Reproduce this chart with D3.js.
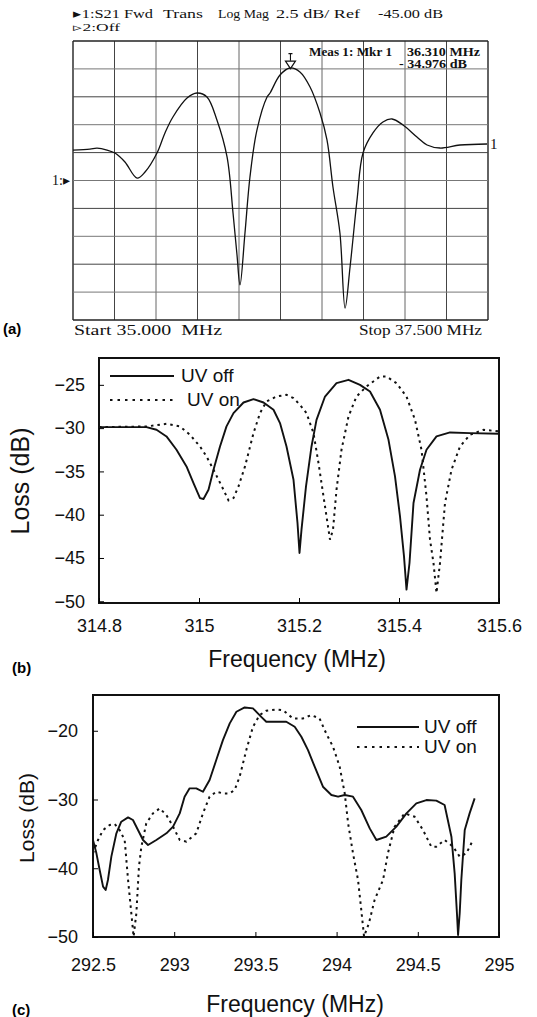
<!DOCTYPE html>
<html>
<head>
<meta charset="utf-8">
<script src="https://cdn.jsdelivr.net/npm/d3@7"></script>
<style>
  body { margin: 0; background: #fff; }
  svg { display: block; }
</style>
</head>
<body>
<svg id="fig" width="537" height="1017"></svg>
<script>
// ---- panel (a): network analyzer trace (MHz, dB) ----
const aFreq = [35.000, 35.102, 35.145, 35.205, 35.253, 35.313, 35.386, 35.434, 35.506, 35.554, 35.602, 35.687,
  35.747, 35.807, 35.867, 35.928, 35.964, 35.988, 36.006, 36.036, 36.066, 36.108, 36.169, 36.187, 36.247,
  36.307, 36.367, 36.428, 36.488, 36.530, 36.566, 36.608, 36.639, 36.669, 36.711, 36.747, 36.807, 36.867,
  36.922, 36.988, 37.072, 37.133, 37.211, 37.331, 37.494];
const aLoss = [-42.27, -42.18, -42.10, -42.27, -42.54, -43.34, -44.78, -44.24, -42.54, -40.74, -39.31, -37.61,
  -37.16, -37.52, -39.58, -42.89, -47.91, -51.68, -54.36, -49.70, -44.69, -40.48, -37.52, -37.16, -35.55,
  -34.92, -35.28, -36.62, -38.95, -41.37, -45.58, -49.70, -56.43, -52.75, -46.75, -42.54, -40.74, -39.76,
  -39.49, -40.03, -41.10, -41.82, -42.09, -41.82, -41.73];
const aMarker = { f: 36.310, db: -34.976 };

// ---- panel (b) ----
const bOffFreq = [314.8, 314.849, 314.895, 314.915, 314.935, 314.955, 314.975, 314.989, 315.002, 315.009, 315.019,
  315.029, 315.042, 315.055, 315.069, 315.089, 315.109, 315.129, 315.149, 315.162, 315.175, 315.189, 315.197,
  315.201, 315.205, 315.214, 315.225, 315.235, 315.252, 315.275, 315.299, 315.322, 315.342, 315.362, 315.379,
  315.392, 315.402, 315.410, 315.415, 315.421, 315.429, 315.442, 315.455, 315.475, 315.502, 315.542, 315.6];
const bOffLoss = [-29.88, -29.88, -29.88, -30.19, -30.96, -32.50, -34.42, -36.35, -38.08, -38.19, -37.12,
  -34.81, -32.12, -29.80, -28.27, -27.04, -26.65, -27.04, -27.88, -29.42, -32.12, -35.96, -40.96,
  -44.42, -41.73, -36.73, -32.12, -29.04, -26.35, -24.81, -24.42, -25.00, -25.77, -27.88, -31.35,
  -35.58, -40.19, -44.81, -48.65, -45.58, -38.65, -34.81, -32.50, -30.96, -30.50, -30.58, -30.65];
const bOnFreq = [314.8, 314.895, 314.935, 314.962, 314.982, 315.002, 315.015, 315.029, 315.039, 315.049, 315.059,
  315.069, 315.079, 315.092, 315.109, 315.122, 315.135, 315.155, 315.175, 315.189, 315.202, 315.215, 315.229,
  315.239, 315.249, 315.257, 315.262, 315.268, 315.275, 315.285, 315.299, 315.315, 315.335, 315.362, 315.375,
  315.395, 315.415, 315.432, 315.445, 315.455, 315.462, 315.469, 315.475, 315.482, 315.492, 315.505, 315.522,
  315.542, 315.569, 315.6];
const bOnLoss = [-29.88, -29.81, -29.50, -29.81, -30.77, -32.12, -33.27, -34.81, -35.96, -37.12, -38.35,
  -38.08, -36.73, -34.42, -30.58, -28.27, -26.92, -26.35, -26.15, -26.54, -27.31, -28.27, -30.58,
  -34.04, -37.88, -40.96, -42.88, -41.73, -37.12, -32.50, -28.65, -26.35, -25.19, -24.04, -24.04,
  -24.81, -26.35, -29.04, -32.50, -37.88, -42.88, -45.58, -49.04, -45.58, -38.65, -34.81, -32.12,
  -30.77, -30.19, -30.38];
const bXTicks = [314.8, 315, 315.2, 315.4, 315.6];
const bYTicks = [-50, -45, -40, -35, -30, -25];

// ---- panel (c) ----
const cOffFreq = [292.5, 292.521, 292.541, 292.562, 292.578, 292.592, 292.613, 292.644, 292.674, 292.716, 292.746,
  292.777, 292.808, 292.839, 292.89, 292.952, 292.993, 293.034, 293.064, 293.095, 293.136, 293.177, 293.218,
  293.259, 293.3, 293.342, 293.383, 293.434, 293.485, 293.536, 293.567, 293.629, 293.69, 293.742, 293.783,
  293.824, 293.865, 293.916, 293.968, 294.009, 294.05, 294.101, 294.152, 294.204, 294.245, 294.306, 294.368,
  294.43, 294.491, 294.553, 294.614, 294.665, 294.707, 294.727, 294.741, 294.748, 294.758, 294.768, 294.789,
  294.819, 294.85];
const cOffLoss = [-35.89, -37.83, -40.25, -42.67, -43.16, -41.71, -38.31, -34.92, -33.23, -32.60, -32.98,
  -34.44, -35.89, -36.62, -35.89, -34.92, -33.95, -32.02, -29.59, -28.38, -28.38, -28.87, -27.17,
  -24.26, -21.36, -18.93, -17.24, -16.61, -16.75, -17.97, -18.69, -18.69, -18.69, -19.42, -20.87,
  -22.81, -25.23, -28.14, -29.35, -29.59, -29.35, -29.59, -31.53, -34.20, -35.89, -35.41, -33.95,
  -32.02, -30.56, -30.08, -30.17, -30.80, -35.41, -40.74, -46.55, -49.70, -46.55, -41.71, -34.44,
  -32.02, -29.84];
const cOnFreq = [292.5, 292.531, 292.562, 292.603, 292.634, 292.664, 292.695, 292.716, 292.736, 292.75, 292.767,
  292.783, 292.798, 292.828, 292.869, 292.911, 292.952, 292.993, 293.034, 293.075, 293.136, 293.177, 293.218,
  293.259, 293.3, 293.342, 293.372, 293.403, 293.444, 293.485, 293.526, 293.567, 293.629, 293.67, 293.731,
  293.793, 293.844, 293.895, 293.936, 293.978, 294.019, 294.05, 294.071, 294.101, 294.132, 294.152, 294.169,
  294.199, 294.234, 294.286, 294.316, 294.357, 294.419, 294.48, 294.532, 294.583, 294.614, 294.665, 294.717,
  294.758, 294.799, 294.84];
const cOnLoss = [-37.83, -35.89, -34.44, -33.71, -33.57, -34.44, -35.89, -41.71, -46.55, -49.94, -46.55,
  -39.77, -36.86, -33.47, -32.02, -31.29, -32.26, -33.95, -35.89, -36.13, -34.92, -32.02, -29.59,
  -28.87, -29.11, -29.11, -28.62, -26.69, -22.81, -19.42, -17.72, -17.09, -16.90, -17.00, -18.21,
  -18.21, -17.72, -18.21, -20.39, -22.33, -25.23, -29.11, -33.47, -37.83, -41.71, -46.07, -49.94,
  -48.00, -44.61, -41.71, -37.83, -33.95, -32.02, -32.50, -34.44, -36.86, -36.86, -35.89, -36.86,
  -38.31, -37.83, -35.89];
const cXTicks = [292.5, 293, 293.5, 294, 294.5, 295];
const cYTicks = [-50, -40, -30, -20];

const seriesNames = ["UV off", "UV on"];

const svg = d3.select("#fig");
const serif = "'Liberation Serif', 'Times New Roman', serif";
const sans = "'Liberation Sans', Arial, sans-serif";
const zip = (xs, ys) => xs.map((x, i) => ({ f: x, db: ys[i] }));

// ================= panel (a) =================
const aBox = { left: 73, right: 488, top: 41, bottom: 320 };
const ax = d3.scaleLinear().domain([35, 37.5]).range([aBox.left, aBox.right]);
const ay = d3.scaleLinear().domain([-57.5, -32.5]).range([aBox.bottom, aBox.top]);
const ga = svg.append("g");

// grid: 10 x 10 divisions
const divs = d3.range(0, 11);
ga.selectAll(".vgrid").data(divs).join("line")
  .attr("x1", d => ax(35 + d * 0.25)).attr("x2", d => ax(35 + d * 0.25))
  .attr("y1", aBox.top).attr("y2", aBox.bottom)
  .attr("stroke", d => (d === 0 || d === 10) ? "#222" : (d % 2 ? "#444" : "#666"))
  .attr("stroke-width", d => (d === 0 || d === 10) ? 1.4 : 1);
ga.selectAll(".hgrid").data(divs).join("line")
  .attr("y1", d => ay(-32.5 - d * 2.5)).attr("y2", d => ay(-32.5 - d * 2.5))
  .attr("x1", aBox.left).attr("x2", aBox.right)
  .attr("stroke", d => (d === 0 || d === 10) ? "#222" : (d % 2 ? "#777" : "#444"))
  .attr("stroke-width", d => (d === 0 || d === 10) ? 1.4 : 1);

ga.append("path")
  .datum(zip(aFreq, aLoss))
  .attr("fill", "none").attr("stroke", "#111").attr("stroke-width", 1.3)
  .attr("d", d3.line().x(d => ax(d.f)).y(d => ay(d.db)).curve(d3.curveCatmullRom));

// marker
const mx = ax(aMarker.f), my = ay(aMarker.db);
ga.append("path")
  .attr("d", `M${mx - 5},${my - 7.5}L${mx + 5},${my - 7.5}L${mx},${my}Z`)
  .attr("fill", "#fff").attr("stroke", "#111").attr("stroke-width", 1.2);
ga.append("path")
  .attr("d", `M${mx},${my - 8}L${mx},${my - 15}M${mx - 2},${my - 15}L${mx + 2},${my - 15}`)
  .attr("stroke", "#111").attr("stroke-width", 1.1);

// analyzer texts, stretched to the widths seen in the scan
const aText = [
  { t: "\u25B81:S21 Fwd", x: 73, y: 18, w: 80, s: 13 },
  { t: "Trans", x: 163, y: 18, w: 40, s: 13 },
  { t: "Log Mag", x: 218, y: 18, w: 51, s: 13 },
  { t: "2.5 dB/ Ref", x: 276, y: 18, w: 84, s: 13 },
  { t: "-45.00 dB", x: 378, y: 18, w: 65, s: 13 },
  { t: "\u25B92:Off", x: 73, y: 31, w: 47, s: 11 },
  { t: "Start 35.000  MHz", x: 74, y: 335, w: 148, s: 15 },
  { t: "Stop 37.500 MHz", x: 359, y: 335, w: 123, s: 15 }
];
ga.selectAll(".atxt").data(aText).join("text")
  .attr("x", d => d.x).attr("y", d => d.y)
  .attr("font-family", serif).attr("font-size", d => d.s)
  .attr("textLength", d => d.w).attr("lengthAdjust", "spacingAndGlyphs")
  .attr("fill", "#111").style("white-space", "pre")
  .text(d => d.t);

ga.append("text").attr("x", 52).attr("y", 185)
  .attr("font-family", serif).attr("font-size", 14).attr("fill", "#111").text("1:\u25B8");
ga.append("text").attr("x", 490).attr("y", 149)
  .attr("font-family", serif).attr("font-size", 15).attr("fill", "#111").text("1");

const readout = [
  { t: "Meas 1: Mkr 1", x: 309, y: 56, w: 83 },
  { t: "36.310 MHz", x: 407, y: 56, w: 73 },
  { t: "- 34.976 dB", x: 399, y: 68, w: 68 }
];
ga.selectAll(".ro").data(readout).join("text")
  .attr("x", d => d.x).attr("y", d => d.y)
  .attr("font-family", serif).attr("font-size", 12).attr("font-weight", "bold")
  .attr("textLength", d => d.w).attr("lengthAdjust", "spacingAndGlyphs")
  .attr("fill", "#111").style("white-space", "pre").text(d => d.t);

svg.append("text").attr("x", 3).attr("y", 334)
  .attr("font-family", sans).attr("font-size", 15).attr("font-weight", "bold")
  .text("(a)");

// ================= panels (b), (c) =================
function drawPanel(cfg) {
  const g = svg.append("g");
  const x = d3.scaleLinear().domain(cfg.xDomain).range([cfg.left, cfg.right]);
  const y = d3.scaleLinear().domain(cfg.yDomain).range([cfg.bottom, cfg.top]);

  const line = d3.line().x(d => x(d.f)).y(d => y(d.db));
  g.append("path").datum(zip(cfg.offF, cfg.offL))
    .attr("fill", "none").attr("stroke", "#111").attr("stroke-width", 1.9)
    .attr("stroke-linejoin", "round").attr("d", line);
  g.append("path").datum(zip(cfg.onF, cfg.onL))
    .attr("fill", "none").attr("stroke", "#111").attr("stroke-width", 2)
    .attr("stroke-dasharray", "2.5,4").attr("d", line);

  // frame
  g.append("rect")
    .attr("x", cfg.left).attr("y", cfg.top)
    .attr("width", cfg.right - cfg.left).attr("height", cfg.bottom - cfg.top)
    .attr("fill", "none").attr("stroke", "#111").attr("stroke-width", 2);

  // axes (ticks inside)
  g.append("g").attr("transform", `translate(0,${cfg.bottom})`)
    .call(d3.axisBottom(x).tickValues(cfg.xTicks).tickSize(-5).tickPadding(cfg.xPad).tickFormat(d3.format("")))
    .call(a => a.select(".domain").remove())
    .call(a => a.selectAll("text").attr("font-family", sans).attr("font-size", 18).attr("fill", "#111"));
  g.append("g").attr("transform", `translate(${cfg.left},0)`)
    .call(d3.axisLeft(y).tickValues(cfg.yTicks).tickSize(-5).tickPadding(cfg.yPad).tickFormat(d3.format("")))
    .call(a => a.select(".domain").remove())
    .call(a => a.selectAll("text").attr("font-family", sans).attr("font-size", 18).attr("fill", "#111"));

  g.append("text")
    .attr("transform", `translate(${cfg.yTitleX},${cfg.yTitleY}) rotate(-90)`)
    .attr("text-anchor", "middle").attr("font-family", sans).attr("font-size", cfg.yTitleSize)
    .attr("fill", "#111").text("Loss (dB)");
  g.append("text")
    .attr("x", cfg.xTitleX).attr("y", cfg.xTitleY)
    .attr("text-anchor", "middle").attr("font-family", sans).attr("font-size", 23)
    .attr("fill", "#111").text("Frequency (MHz)");
  g.append("text")
    .attr("x", 12).attr("y", cfg.tagY)
    .attr("font-family", sans).attr("font-size", 15).attr("font-weight", "bold")
    .text(cfg.tag);

  // legend
  const lg = g.append("g");
  seriesNames.forEach((name, i) => {
    const ly = cfg.legY + i * cfg.legGap;
    lg.append("line")
      .attr("x1", cfg.legX1).attr("x2", cfg.legX2).attr("y1", ly).attr("y2", ly)
      .attr("stroke", "#111").attr("stroke-width", 2)
      .attr("stroke-dasharray", i ? "2.5,5" : null);
    lg.append("text")
      .attr("x", cfg.legTextX[i]).attr("y", ly + 6)
      .attr("font-family", sans).attr("font-size", 19).attr("fill", "#111")
      .text(name);
  });
}

drawPanel({
  left: 99, right: 499, top: 358, bottom: 603,
  xDomain: [314.8, 315.6], yDomain: [-50.2, -21.9],
  offF: bOffFreq, offL: bOffLoss, onF: bOnFreq, onL: bOnLoss,
  xTicks: bXTicks, yTicks: bYTicks, xPad: 16, yPad: 14,
  yTitleX: 29, yTitleY: 481, yTitleSize: 25, xTitleX: 297, xTitleY: 667, tag: "(b)", tagY: 673,
  legX1: 110, legX2: 174, legY: 376, legGap: 24, legTextX: [181, 187]
});

drawPanel({
  left: 93, right: 499, top: 695, bottom: 937,
  xDomain: [292.5, 295], yDomain: [-50, -14.8],
  offF: cOffFreq, offL: cOffLoss, onF: cOnFreq, onL: cOnLoss,
  xTicks: cXTicks, yTicks: cYTicks, xPad: 21, yPad: 15,
  yTitleX: 34, yTitleY: 818, yTitleSize: 21, xTitleX: 295, xTitleY: 1012, tag: "(c)", tagY: 1015,
  legX1: 357, legX2: 419, legY: 727, legGap: 20, legTextX: [424, 424]
});
</script>
</body>
</html>
